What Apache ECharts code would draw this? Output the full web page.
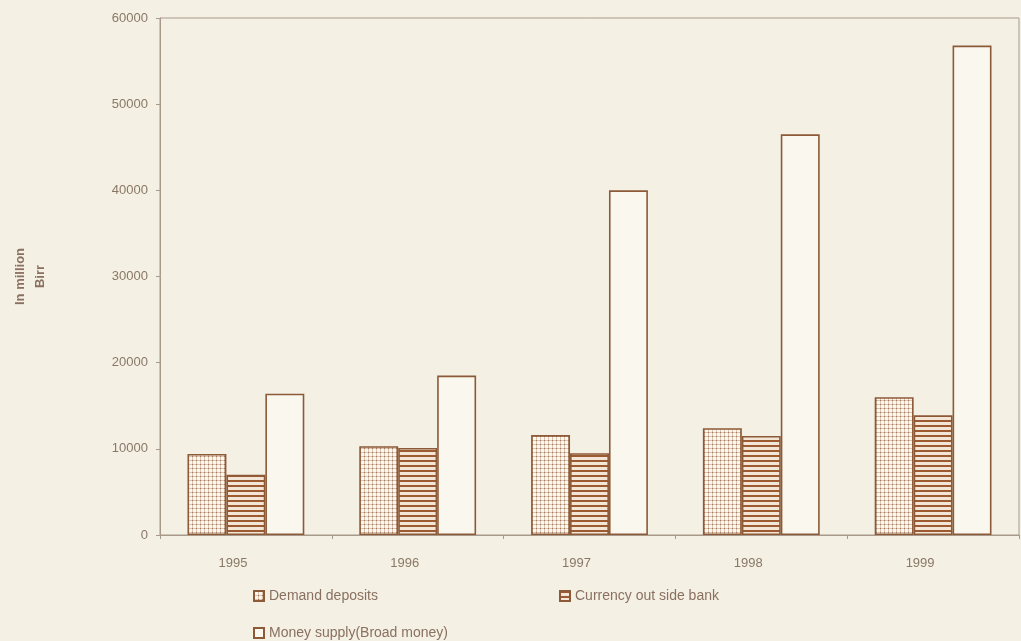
<!DOCTYPE html>
<html>
<head>
<meta charset="utf-8">
<script src="https://cdn.jsdelivr.net/npm/echarts@6/dist/echarts.min.js"></script>
<style>
html,body{margin:0;padding:0;background:#f4f0e4;}
#c{width:1021px;height:641px;}
</style>
</head>
<body>
<div id="c"></div>
<script>
var categories = ['1995', '1996', '1997', '1998', '1999'];
var demandDeposits = [9400, 10300, 11600, 12400, 16000];
var currencyOutside = [7000, 10100, 9500, 11500, 13900];
var moneySupply = [16400, 18500, 40000, 46500, 56800];
var seriesNames = ['Demand deposits', 'Currency out side bank', 'Money supply(Broad money)'];

var brown = '#8c5a38';
var bg = '#f4f0e4';

function stripePattern() {
  var c = document.createElement('canvas');
  c.width = 6; c.height = 5;
  var g = c.getContext('2d');
  g.fillStyle = '#f3e6d6'; g.fillRect(0, 0, 6, 5);
  g.fillStyle = '#9b5a30'; g.fillRect(0, 0, 6, 2);
  return c;
}
function dotPattern() {
  var c = document.createElement('canvas');
  c.width = 4; c.height = 4;
  var g = c.getContext('2d');
  g.fillStyle = '#fbf6ee'; g.fillRect(0, 0, 4, 4);
  g.fillStyle = '#dcc2ac'; g.fillRect(0, 0, 4, 1); g.fillRect(0, 0, 1, 4);
  g.fillStyle = '#a07a60'; g.fillRect(0, 0, 1, 1);
  return c;
}

var chart = echarts.init(document.getElementById('c'), null, {renderer: 'canvas'});
var txt = '#8a7866';
var legendText = {color: '#8a7060', fontSize: 14};
chart.setOption({
  backgroundColor: bg,
  animation: false,
  textStyle: {fontFamily: 'Liberation Sans, Arial, sans-serif'},
  grid: {left: 160, right: 2, top: 18, bottom: 106, containLabel: false, outerBoundsMode: 'none',
         show: true, borderColor: '#a89a8a', borderWidth: 1, backgroundColor: 'transparent'},
  legend: [
    {data: [{name: seriesNames[0], icon: 'rect'}], left: 248, top: 584, itemWidth: 10, itemHeight: 10, itemGap: 4, textStyle: legendText},
    {data: [{name: seriesNames[1], icon: 'rect'}], left: 554, top: 584, itemWidth: 10, itemHeight: 10, itemGap: 4, textStyle: legendText},
    {data: [{name: seriesNames[2], icon: 'rect'}], left: 248, top: 621, itemWidth: 10, itemHeight: 10, itemGap: 4, textStyle: legendText}
  ],
  xAxis: {
    type: 'category',
    data: categories,
    axisLine: {lineStyle: {color: '#a89a8a'}},
    axisTick: {show: true, length: 4, lineStyle: {color: '#a89a8a'}},
    axisLabel: {color: txt, fontSize: 13, margin: 22, padding: [0, 26, 0, 0]},
    splitLine: {show: false}
  },
  yAxis: {
    type: 'value',
    min: 0, max: 60000, interval: 10000,
    name: 'In million\nBirr',
    nameLocation: 'middle',
    nameRotate: 90,
    nameGap: 110,
    nameTextStyle: {color: '#8a7060', fontSize: 13, fontWeight: 'bold', lineHeight: 20},
    axisLine: {show: true, lineStyle: {color: '#a89a8a'}},
    axisTick: {show: true, length: 4, lineStyle: {color: '#a89a8a'}},
    axisLabel: {color: txt, fontSize: 13, margin: 12, formatter: function (v) { return String(v); }},
    splitLine: {show: false}
  },
  series: [
    {name: seriesNames[0], type: 'bar', data: demandDeposits, barGap: '0%', barCategoryGap: '32%',
     itemStyle: {color: {image: dotPattern(), repeat: 'repeat'}, borderColor: brown, borderWidth: 1.6}},
    {name: seriesNames[1], type: 'bar', data: currencyOutside,
     itemStyle: {color: {image: stripePattern(), repeat: 'repeat'}, borderColor: brown, borderWidth: 1.6}},
    {name: seriesNames[2], type: 'bar', data: moneySupply,
     itemStyle: {color: '#faf7ef', borderColor: brown, borderWidth: 1.6}}
  ]
});
</script>
</body>
</html>
